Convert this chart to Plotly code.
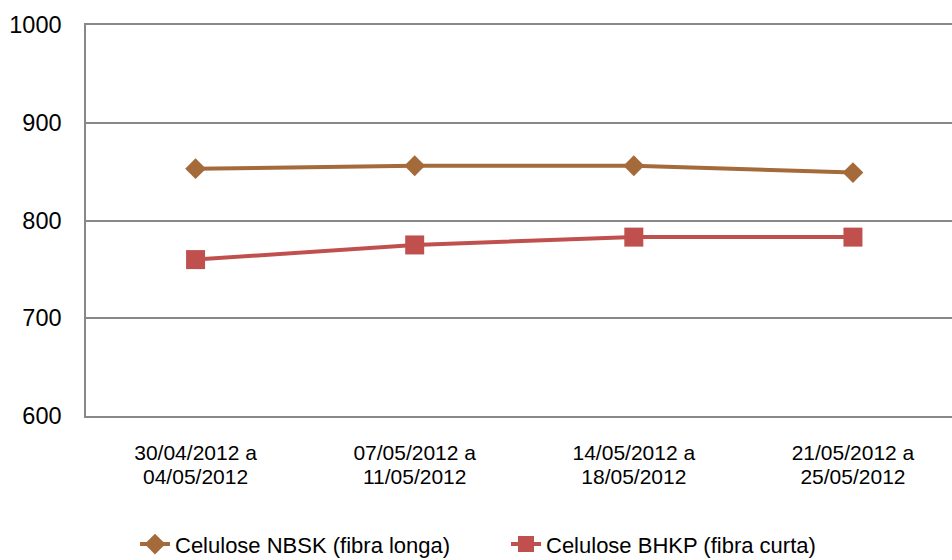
import plotly.graph_objects as go

week_start = ["30/04/2012 a", "07/05/2012 a", "14/05/2012 a", "21/05/2012 a"]
week_end = ["04/05/2012", "11/05/2012", "18/05/2012", "25/05/2012"]
nbsk = [853, 856, 856, 849]
bhkp = [760, 775, 783, 783]
y_ticks = [600, 700, 800, 900, 1000]

grid = "#888888"
font = "Liberation Sans, Arial, sans-serif"
idx = list(range(len(week_start)))
xrange = [-0.5, 3.452]

fig = go.Figure()
fig.add_trace(go.Scatter(
    x=idx, y=nbsk, mode="lines+markers",
    name="Celulose NBSK (fibra longa)",
    line=dict(color="#A56A3A", width=4),
    marker=dict(symbol="diamond", size=16, color="#A56A3A"),
))
fig.add_trace(go.Scatter(
    x=idx, y=bhkp, mode="lines+markers", xaxis="x2",
    name="Celulose BHKP (fibra curta)",
    line=dict(color="#C0504D", width=4),
    marker=dict(symbol="square", size=19, color="#C0504D"),
))

fig.update_layout(
    width=952, height=560,
    margin=dict(l=86, r=0, t=25, b=144, autoexpand=False),
    paper_bgcolor="white", plot_bgcolor="white",
    font=dict(family=font, size=21, color="black"),
    showlegend=True,
    legend=dict(orientation="h", xref="container", yref="container",
                x=135 / 952, xanchor="left", y=0.028, yanchor="middle",
                font=dict(size=22), entrywidth=326, entrywidthmode="pixels",
                tracegroupgap=0),
    xaxis=dict(
        range=xrange, tickmode="array", tickvals=idx, ticktext=week_start,
        showgrid=False, showline=True, mirror=True, linecolor=grid, linewidth=1.5,
        ticks="", tickfont=dict(size=21), ticklabelstandoff=17, zeroline=False,
        automargin=False,
    ),
    xaxis2=dict(
        overlaying="x", anchor="y", side="bottom", matches="x",
        range=xrange, tickmode="array", tickvals=idx, ticktext=week_end,
        showgrid=False, showline=False, ticks="", tickfont=dict(size=21),
        ticklabelstandoff=46, zeroline=False, automargin=False,
    ),
    yaxis=dict(
        range=[600, 1000], tickmode="array", tickvals=y_ticks,
        showgrid=True, gridcolor=grid, gridwidth=1.5,
        showline=True, linecolor=grid, linewidth=1.5,
        ticks="", tickfont=dict(size=23.5), ticklabelstandoff=18, zeroline=False,
        automargin=False,
    ),
)

fig.write_html("out.html", config={"displayModeBar": False},
               post_script="document.body.style.margin='0px';")
